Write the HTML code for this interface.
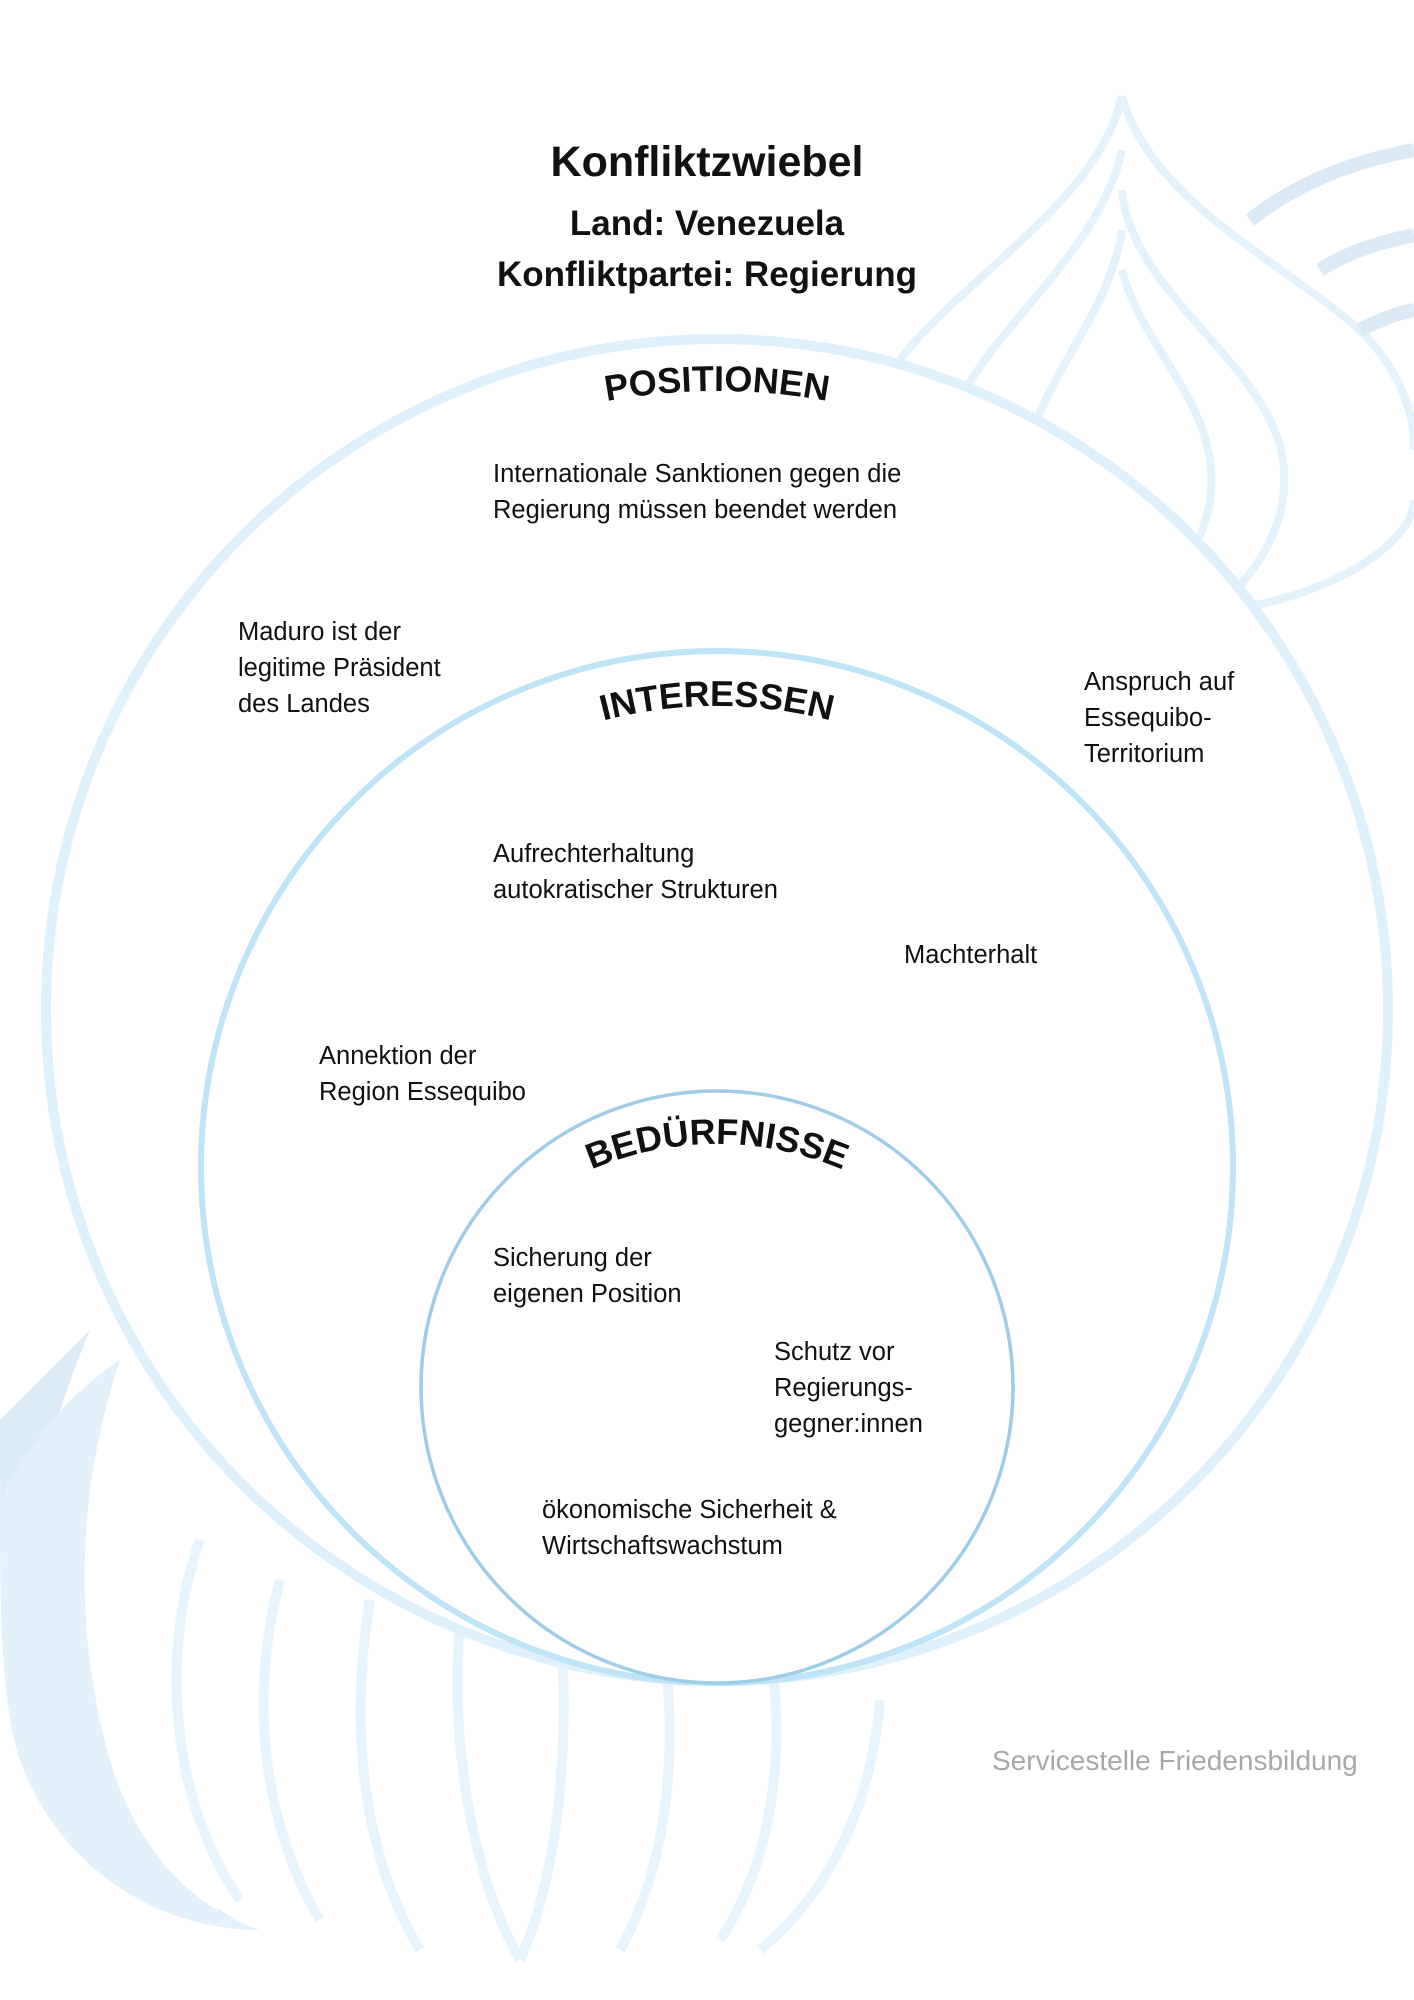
<!DOCTYPE html>
<html><head><meta charset="utf-8">
<style>
html,body{margin:0;padding:0;background:#fff;}
#p{position:relative;width:1414px;height:2000px;overflow:hidden;font-family:"Liberation Sans",Arial,sans-serif;color:#111;}
.t{position:absolute;font-size:25.5px;line-height:36px;white-space:nowrap;}
.h{position:absolute;left:0;width:1414px;text-align:center;font-weight:bold;}
svg{position:absolute;left:0;top:0;}
</style></head><body><div id="p">
<svg width="1414" height="2000" viewBox="0 0 1414 2000">
 <g fill="none" stroke="#e4f2fc" stroke-width="8">
  <path d="M1122 96 C1100 200 960 280 900 360 C840 440 1000 560 1120 600 C1250 640 1414 560 1414 500"/>
  <path d="M1122 96 C1150 200 1280 260 1360 330 C1420 390 1414 450 1414 450"/>
  <path d="M1122 150 C1100 250 1000 320 960 400 C930 470 1030 560 1130 580"/>
  <path d="M1122 190 C1130 280 1230 340 1270 420 C1310 500 1260 580 1200 620"/>
  <path d="M1122 230 C1110 310 1050 370 1030 440 C1010 510 1060 560 1110 580"/>
  <path d="M1122 270 C1140 340 1200 390 1210 460 C1220 530 1180 570 1150 600"/>
 </g>
 <g fill="none" stroke="#dceaf5" stroke-width="14">
  <path d="M1250 220 C1300 180 1360 160 1414 150"/>
  <path d="M1320 270 C1350 250 1390 240 1414 235"/>
  <path d="M1360 330 C1380 320 1400 312 1414 310"/>
 </g>
 <path d="M0 1420 L90 1330 C40 1450 0 1600 40 1760 C80 1880 160 1920 250 1930 L220 1910 C120 1880 60 1800 20 1680 C0 1620 0 1520 0 1420Z" fill="#dcedf9"/>
 <path d="M0 1500 C40 1420 90 1380 120 1360 C80 1480 70 1620 110 1760 C140 1860 200 1910 260 1930 C160 1930 60 1870 20 1760 C0 1700 0 1600 0 1500Z" fill="#e3f1fb"/>
 <g fill="none" stroke="#e8f4fc" stroke-width="10">
  <path d="M200 1540 C160 1650 170 1800 240 1900"/>
  <path d="M280 1580 C250 1690 260 1820 320 1920"/>
  <path d="M370 1600 C350 1720 360 1850 420 1950"/>
  <path d="M460 1620 C450 1740 470 1870 520 1960"/>
  <path d="M560 1620 C570 1740 560 1870 520 1960"/>
  <path d="M660 1620 C680 1740 670 1860 620 1950"/>
  <path d="M760 1600 C790 1720 780 1850 720 1940"/>
  <path d="M880 1700 C870 1820 820 1900 760 1950"/>
 </g>
 <circle cx="717" cy="1010" r="671" fill="#fff" stroke="#dff1fc" stroke-width="10"/>
 <circle cx="717" cy="1167" r="516" fill="#fff" stroke="#bfe3f7" stroke-width="6"/>
 <circle cx="717" cy="1387" r="296" fill="#fff" stroke="#9fcde8" stroke-width="3.5"/>
 <defs>
  <path id="a1" d="M 107 1001 A 610 610 0 0 1 1327 1001"/>
  <path id="a2" d="M 267 1156 A 450 450 0 0 1 1167 1156"/>
  <path id="a3" d="M 397 1464 A 320 320 0 0 1 1037 1464"/>
 </defs>
 <g font-family="Liberation Sans, Arial, sans-serif" font-weight="bold" font-size="36" fill="#111">
  <text><textPath href="#a1" startOffset="50%" text-anchor="middle">POSITIONEN</textPath></text>
  <text><textPath href="#a2" startOffset="50%" text-anchor="middle">INTERESSEN</textPath></text>
  <text><textPath href="#a3" startOffset="50%" text-anchor="middle">BEDÜRFNISSE</textPath></text>
 </g>
</svg>
<div class="h" style="top:138px;font-size:43px;">Konfliktzwiebel</div>
<div class="h" style="top:204px;font-size:35px;">Land: Venezuela</div>
<div class="h" style="top:255px;font-size:35px;">Konfliktpartei: Regierung</div>

<div class="t" style="left:493px;top:456px;">Internationale Sanktionen gegen die<br>Regierung müssen beendet werden</div>
<div class="t" style="left:238px;top:614px;">Maduro ist der<br>legitime Präsident<br>des Landes</div>
<div class="t" style="left:1084px;top:664px;">Anspruch auf<br>Essequibo-<br>Territorium</div>
<div class="t" style="left:493px;top:836px;">Aufrechterhaltung<br>autokratischer Strukturen</div>
<div class="t" style="left:904px;top:937px;">Machterhalt</div>
<div class="t" style="left:319px;top:1038px;">Annektion der<br>Region Essequibo</div>
<div class="t" style="left:493px;top:1240px;">Sicherung der<br>eigenen Position</div>
<div class="t" style="left:774px;top:1334px;">Schutz vor<br>Regierungs-<br>gegner:innen</div>
<div class="t" style="left:542px;top:1492px;">ökonomische Sicherheit &amp;<br>Wirtschaftswachstum</div>
<div class="t" style="left:992px;top:1743px;font-size:28px;color:#a8a8a8;">Servicestelle Friedensbildung</div>
</div></body></html>
